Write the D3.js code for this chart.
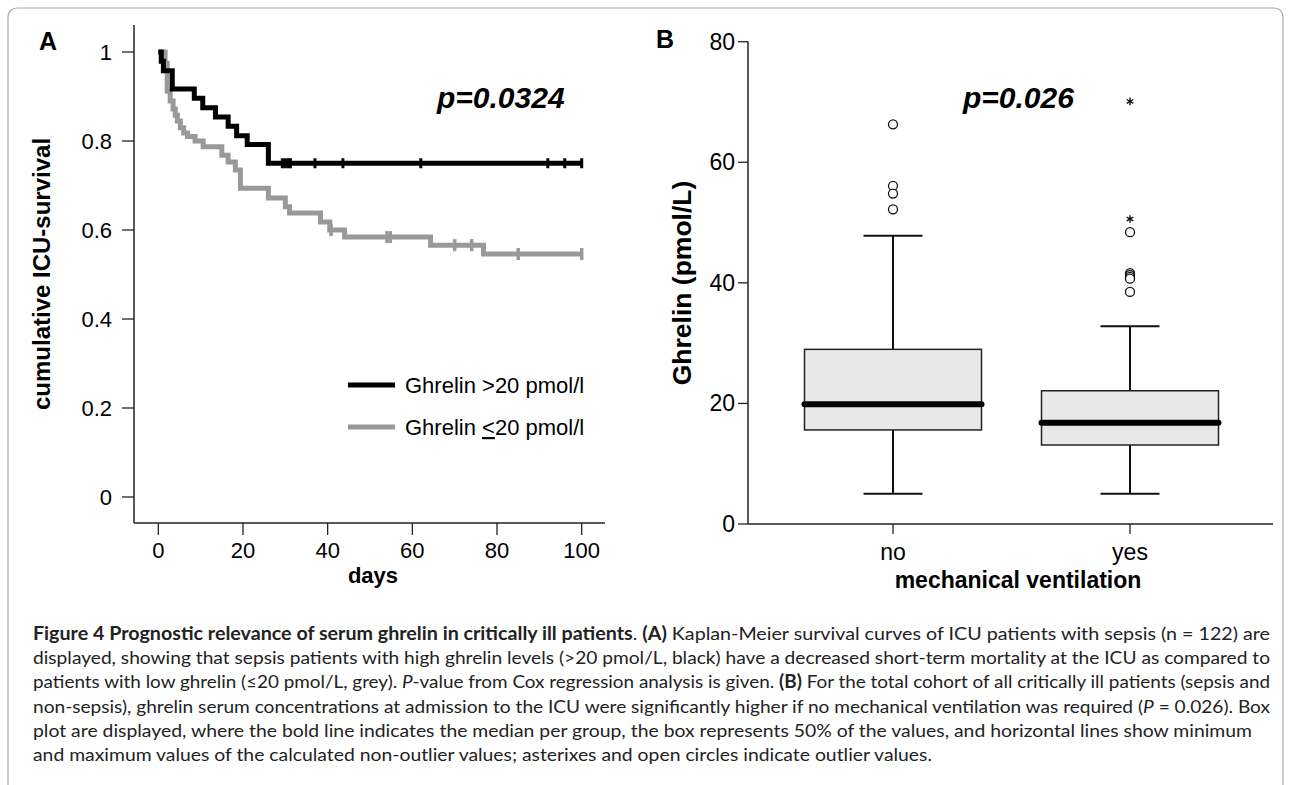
<!DOCTYPE html>
<html>
<head>
<meta charset="utf-8">
<script src="https://cdn.jsdelivr.net/npm/d3@7"></script>
<style>
  body { margin: 0; background: #fff; }
  svg { display: block; font-family: "Liberation Sans", Arial, sans-serif; }
</style>
</head>
<body>
<div id="chart"></div>
<script>
// panel A - Kaplan-Meier curves (days / survival)
const highTimes = [0, 0.7, 1.2, 3.3, 8.5, 10.5, 13.5, 16.5, 18.5, 21, 26, 100];
const highSurv  = [1, 0.979, 0.958, 0.917, 0.896, 0.875, 0.854, 0.833, 0.812, 0.792, 0.75, 0.75];
const highCensor = [29.3, 30, 30.7, 31.2, 37, 43.6, 62, 92, 96, 100];

const lowTimes = [0, 1.6, 2.1, 2.8, 3.5, 4, 4.5, 5.2, 6, 6.9, 8.7, 10.6, 15, 16.5, 18.2, 19.4, 26, 30, 31, 38.3, 40.5, 44, 64.3, 76.8, 100];
const lowSurv  = [1, 0.975, 0.912, 0.89, 0.872, 0.858, 0.845, 0.83, 0.818, 0.81, 0.80, 0.787, 0.768, 0.753, 0.735, 0.694, 0.672, 0.652, 0.638, 0.618, 0.60, 0.584, 0.566, 0.546, 0.546];
const lowCensor = [40.8, 54, 54.8, 70, 74, 85, 100];

const survTicks = [0, 0.2, 0.4, 0.6, 0.8, 1];
const dayTicks = [0, 20, 40, 60, 80, 100];
const legendLabels = ['Ghrelin >20 pmol/l', 'Ghrelin ≤20 pmol/l'];

// panel B - box plots (pmol/L)
const groups = ['no', 'yes'];
const whiskLow = [5.0, 5.0];
const q1 = [15.6, 13.1];
const medians = [19.85, 16.8];
const q3 = [28.97, 22.1];
const whiskHigh = [47.8, 32.8];
const circleOutliers = [[66.3, 56.1, 54.8, 52.2], [48.4, 41.6, 41.3, 41.0, 40.7, 38.5]];
const starOutliers = [[], [70.1, 50.6]];
const ghrelinTicks = [0, 20, 40, 60, 80];

const W = 1292, H = 785;
const svg = d3.select('#chart').append('svg').attr('width', W).attr('height', H);
svg.append('rect').attr('width', W).attr('height', H).attr('fill', '#fff');

// frame
svg.append('path')
    .attr('d', 'M8,785 L8,18 Q8,8 18,8 L1273,8 Q1283,8 1283,18 L1283,785')
    .attr('fill', 'none').attr('stroke', '#a8a8a8').attr('stroke-width', 1.2);

// ---------------- panel A ----------------
const ax = d3.scaleLinear().domain([0, 100]).range([158.3, 581.7]);
const ay = d3.scaleLinear().domain([0, 1]).range([497, 52]);

const gA = svg.append('g');
gA.append('text').attr('x', 39).attr('y', 50).attr('font-size', 25).attr('font-weight', 'bold').text('A');

gA.append('line').attr('x1', 134).attr('x2', 134).attr('y1', 25).attr('y2', 523).attr('stroke', '#222').attr('stroke-width', 1.5);
gA.append('line').attr('x1', 134).attr('x2', 605).attr('y1', 523).attr('y2', 523).attr('stroke', '#222').attr('stroke-width', 1.5);

gA.selectAll('.yt').data(survTicks).enter().append('line')
    .attr('x1', 122).attr('x2', 134).attr('y1', d => ay(d)).attr('y2', d => ay(d))
    .attr('stroke', '#222').attr('stroke-width', 1.3);
gA.selectAll('.ytl').data(survTicks).enter().append('text')
    .attr('x', 112).attr('y', d => ay(d) + 8).attr('text-anchor', 'end').attr('font-size', 22)
    .text(d => d === 0 || d === 1 ? d : d.toFixed(1));

gA.selectAll('.xt').data(dayTicks).enter().append('line')
    .attr('x1', d => ax(d)).attr('x2', d => ax(d)).attr('y1', 523).attr('y2', 535)
    .attr('stroke', '#222').attr('stroke-width', 1.3);
gA.selectAll('.xtl').data(dayTicks).enter().append('text')
    .attr('x', d => ax(d)).attr('y', 558).attr('text-anchor', 'middle').attr('font-size', 22)
    .text(d => d);

gA.append('text').attr('x', 373).attr('y', 583).attr('text-anchor', 'middle')
    .attr('font-size', 22).attr('font-weight', 'bold').text('days');
gA.append('text').attr('transform', 'translate(50,274) rotate(-90)').attr('text-anchor', 'middle')
    .attr('font-size', 24).attr('font-weight', 'bold').text('cumulative ICU-survival');

const km = d3.line().x(d => ax(d[0])).y(d => ay(d[1])).curve(d3.curveStepAfter);
const lowPts = lowTimes.map((t, i) => [t, lowSurv[i]]);
const highPts = highTimes.map((t, i) => [t, highSurv[i]]);

function survAt(times, surv, t) {
  let s = surv[0];
  for (let i = 0; i < times.length; i++) if (times[i] <= t) s = surv[i];
  return s;
}

gA.append('path').attr('d', km(lowPts)).attr('fill', 'none').attr('stroke', '#999')
    .attr('stroke-width', 5).attr('stroke-linejoin', 'miter');
gA.selectAll('.lc').data(lowCensor).enter().append('line')
    .attr('x1', d => ax(d)).attr('x2', d => ax(d))
    .attr('y1', d => ay(survAt(lowTimes, lowSurv, d)) - 6).attr('y2', d => ay(survAt(lowTimes, lowSurv, d)) + 6)
    .attr('stroke', '#999').attr('stroke-width', 3.5);

gA.append('path').attr('d', km(highPts)).attr('fill', 'none').attr('stroke', '#000')
    .attr('stroke-width', 5).attr('stroke-linejoin', 'miter');
gA.selectAll('.hc').data(highCensor).enter().append('line')
    .attr('x1', d => ax(d)).attr('x2', d => ax(d))
    .attr('y1', d => ay(survAt(highTimes, highSurv, d)) - 5).attr('y2', d => ay(survAt(highTimes, highSurv, d)) + 5)
    .attr('stroke', '#000').attr('stroke-width', 3);

gA.append('text').attr('x', 437).attr('y', 108).attr('font-size', 30)
    .attr('font-weight', 'bold').attr('font-style', 'italic').text('p=0.0324');

// legend
const legColors = ['#000', '#999'];
legendLabels.forEach((lab, i) => {
  const ly = 385 + i * 42;
  gA.append('line').attr('x1', 348).attr('x2', 395).attr('y1', ly).attr('y2', ly)
      .attr('stroke', legColors[i]).attr('stroke-width', 5);
  const t = gA.append('text').attr('x', 405).attr('y', ly + 8).attr('font-size', 22);
  if (i === 0) t.text(lab);
  else {
    t.append('tspan').text('Ghrelin ');
    t.append('tspan').attr('text-decoration', 'underline').text('<');
    t.append('tspan').text('20 pmol/l');
  }
});

// ---------------- panel B ----------------
const by = d3.scaleLinear().domain([0, 80]).range([524, 41.7]);
const bx = d3.scalePoint().domain(groups).range([893, 1130]);
const boxHalf = 88.5, capHalf = 29.5;

const gB = svg.append('g');
gB.append('text').attr('x', 656).attr('y', 48).attr('font-size', 25).attr('font-weight', 'bold').text('B');

gB.append('line').attr('x1', 748).attr('x2', 748).attr('y1', by(80)).attr('y2', 524).attr('stroke', '#222').attr('stroke-width', 1.5);
gB.append('line').attr('x1', 748).attr('x2', 1273).attr('y1', 524).attr('y2', 524).attr('stroke', '#222').attr('stroke-width', 1.5);

gB.selectAll('.yt').data(ghrelinTicks).enter().append('line')
    .attr('x1', 738).attr('x2', 748).attr('y1', d => by(d)).attr('y2', d => by(d))
    .attr('stroke', '#222').attr('stroke-width', 1.3);
gB.selectAll('.ytl').data(ghrelinTicks).enter().append('text')
    .attr('x', 735).attr('y', d => by(d) + 8).attr('text-anchor', 'end').attr('font-size', 23)
    .text(d => d);

gB.selectAll('.xt').data(groups).enter().append('line')
    .attr('x1', d => bx(d)).attr('x2', d => bx(d)).attr('y1', 524).attr('y2', 534)
    .attr('stroke', '#222').attr('stroke-width', 1.3);
gB.selectAll('.xtl').data(groups).enter().append('text')
    .attr('x', d => bx(d)).attr('y', 560).attr('text-anchor', 'middle').attr('font-size', 23)
    .text(d => d);

gB.append('text').attr('x', 1018).attr('y', 588).attr('text-anchor', 'middle')
    .attr('font-size', 23).attr('font-weight', 'bold').text('mechanical ventilation');
gB.append('text').attr('transform', 'translate(691,283) rotate(-90)').attr('text-anchor', 'middle')
    .attr('font-size', 26.5).attr('font-weight', 'bold').text('Ghrelin (pmol/L)');

groups.forEach((g, i) => {
  const cx = bx(g);
  // whiskers
  gB.append('line').attr('x1', cx).attr('x2', cx).attr('y1', by(whiskHigh[i])).attr('y2', by(q3[i]))
      .attr('stroke', '#111').attr('stroke-width', 2);
  gB.append('line').attr('x1', cx).attr('x2', cx).attr('y1', by(q1[i])).attr('y2', by(whiskLow[i]))
      .attr('stroke', '#111').attr('stroke-width', 2);
  [whiskHigh[i], whiskLow[i]].forEach(v => {
    gB.append('line').attr('x1', cx - capHalf).attr('x2', cx + capHalf).attr('y1', by(v)).attr('y2', by(v))
        .attr('stroke', '#111').attr('stroke-width', 2);
  });
  gB.append('rect').attr('x', cx - boxHalf).attr('width', boxHalf * 2)
      .attr('y', by(q3[i])).attr('height', by(q1[i]) - by(q3[i]))
      .attr('fill', '#e8e8e8').attr('stroke', '#222').attr('stroke-width', 1.5);
  gB.append('line').attr('x1', cx - boxHalf).attr('x2', cx + boxHalf).attr('y1', by(medians[i])).attr('y2', by(medians[i]))
      .attr('stroke', '#000').attr('stroke-width', 6).attr('stroke-linecap', 'round');
  gB.selectAll(null).data(circleOutliers[i]).enter().append('circle')
      .attr('cx', cx).attr('cy', d => by(d)).attr('r', 4.5)
      .attr('fill', '#fff').attr('stroke', '#111').attr('stroke-width', 1.3);
  gB.selectAll(null).data(starOutliers[i]).enter().append('path')
      .attr('transform', d => `translate(${cx},${by(d)})`)
      .attr('d', d3.symbol(d3.symbolAsterisk, 40))
      .attr('fill', 'none').attr('stroke', '#111').attr('stroke-width', 1.4);
});

gB.append('text').attr('x', 963).attr('y', 108).attr('font-size', 30)
    .attr('font-weight', 'bold').attr('font-style', 'italic').text('p=0.026');

// ---------------- caption ----------------
const capFont = 'Lato, "Open Sans", sans-serif';
const capLines = [
  [['b', 'Figure 4 Prognostic relevance of serum ghrelin in critically ill patients'], ['n', '. '], ['b', '(A)'], ['n', ' Kaplan-Meier survival curves of ICU patients with sepsis (n = 122) are']],
  [['n', 'displayed, showing that sepsis patients with high ghrelin levels (>20 pmol/L, black) have a decreased short-term mortality at the ICU as compared to']],
  [['n', 'patients with low ghrelin (≤20 pmol/L, grey). '], ['i', 'P'], ['n', '-value from Cox regression analysis is given. '], ['b', '(B)'], ['n', ' For the total cohort of all critically ill patients (sepsis and']],
  [['n', 'non-sepsis), ghrelin serum concentrations at admission to the ICU were significantly higher if no mechanical ventilation was required ('], ['i', 'P'], ['n', ' = 0.026). Box']],
  [['n', 'plot are displayed, where the bold line indicates the median per group, the box represents 50% of the values, and horizontal lines show minimum']],
  [['n', 'and maximum values of the calculated non-outlier values; asterixes and open circles indicate outlier values.']]
];
const capEnds = [1270, 1270, 1270, 1270, 1252, 932];
capLines.forEach((parts, i) => {
  const t = svg.append('text').attr('x', 33).attr('y', 640 + i * 24.2)
      .attr('font-family', capFont).attr('font-size', 18).attr('fill', '#222')
      .attr('textLength', capEnds[i] - 33).attr('lengthAdjust', 'spacingAndGlyphs');
  parts.forEach(p => {
    const s = t.append('tspan').text(p[1]);
    if (p[0] === 'b') s.attr('font-weight', 'bold');
    if (p[0] === 'i') s.attr('font-style', 'italic');
  });
});
</script>
</body>
</html>
